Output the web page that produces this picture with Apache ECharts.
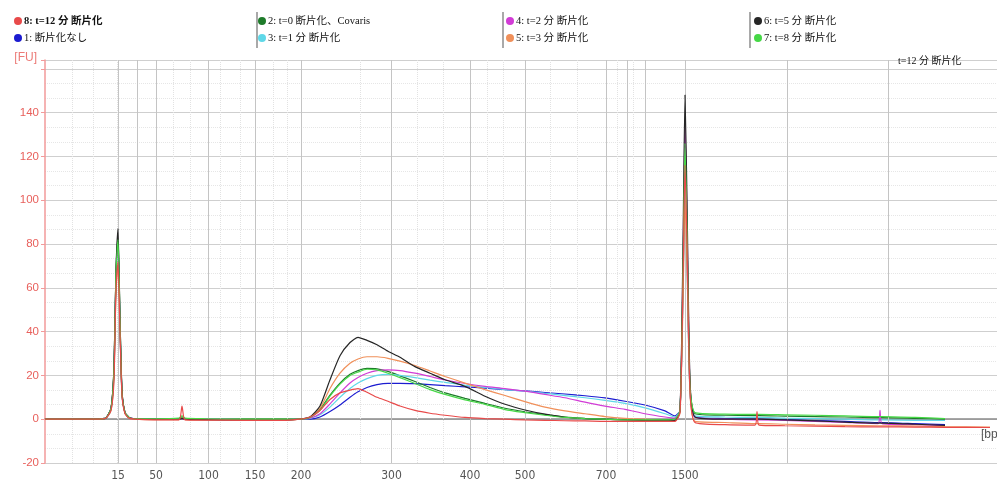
<!DOCTYPE html>
<html><head><meta charset="utf-8">
<script src="https://cdn.jsdelivr.net/npm/echarts@6/dist/echarts.min.js"></script>
<style>html,body{margin:0;padding:0;background:#fff;overflow:hidden}#c{width:997px;height:493px}</style>
</head><body><div id="c"></div>
<script>
// migration time (s)
const times = [20, 24, 26, 26.6, 26.9, 27.1, 27.3, 27.5, 27.7, 28.0, 28.4, 29, 31, 33.4, 33.7, 34.0, 36, 40, 44,
  45.5, 46.5, 47.5, 48.5, 49.5, 50.5, 51.3, 52.2, 53.2, 54.3, 55.5, 57, 58.5, 60, 62, 64, 66, 68, 70, 72, 74, 76, 78, 80, 82, 83,
  83.5, 83.8, 84.0, 84.2, 84.5, 85.0,
  88, 91, 91.2, 91.4, 94, 97, 100, 103.3, 103.5, 103.7, 107, 110, 114.5];

const ladderBp = ['15', '50', '100', '150', '200', '300', '400', '500', '700', '1500'];
const ladderTime = [27.3, 31.1, 36.35, 41.0, 45.6, 54.65, 62.5, 68.0, 76.1, 84.0];
const extraTickTime = [29.2, 78.2, 80.0];
const extraGridTime = [29.2, 78.2, 80.0, 94.2, 104.3];
const minorGridTime = [22.7, 24.8, 27.2, 32.8, 34.5, 37.5, 39.5, 42.8, 44.2, 51.5, 57.2, 59.8, 64.2, 65.8, 70.5, 73.2, 77.2, 78.8];

const s1 = [0.2, 0.2, 0.4, 5, 22, 64, 78, 42, 12, 3, 0.8, 0.2, 0, 0, 0.2, 0, -0.1, -0.2, -0.2,
  0, 0, 1, 3.5, 6.5, 10, 12.5, 14.5, 15.8, 16.4, 16.4, 16.2, 15.8, 15.3, 14.8, 14.2, 13.5, 12.9, 12.2, 11.5, 10.7, 9.7, 8.2, 6.5, 3.8, 1.5,
  4, 60, 110, 76, 13, 1,
  0.3, 0, 0, 0, -0.2, -0.6, -1, -1.5, -1.5, -1.5, -2, -2.5, null];
const s2 = [0, 0, 0.4, 5, 24, 69, 84, 46, 13, 3, 0.8, 0.2, 0.2, 0.3, 1, 0.3, 0.1, 0, 0,
  0, 0.8, 4.5, 11, 16.5, 20.5, 22.2, 23.2, 23, 21.8, 19.8, 17.2, 14.5, 12, 9.5, 7.2, 5, 3.4, 2.1, 1, 0.4, 0, -0.2, -0.2, -0.2, 0.2,
  4, 66, 122, 84, 15, 2.5,
  1.8, 1.6, 1.6, 1.6, 1.4, 1.2, 1, 0.7, 0.7, 0.7, 0.4, 0, null];
const s3 = [0, 0, 0.3, 4, 21, 62, 76, 42, 11, 3, 0.7, 0.1, 0, 0, 0.2, 0, 0, -0.2, -0.2,
  0, 0.3, 2, 5.5, 10, 14, 16.5, 18.5, 20, 20.5, 20, 19, 17.8, 16.8, 15.5, 14.5, 13.5, 12.8, 11.8, 10.8, 9.8, 8.6, 7.2, 5.2, 2.5, 1,
  4, 58, 105, 72, 12, 1.5,
  1, 0.8, 0.8, 0.8, 0.5, 0.3, 0, -0.3, -0.3, -0.3, -0.5, -0.6, null];
const s4 = [0.3, 0.2, 0.4, 5, 23, 66, 80, 44, 12, 3, 0.8, 0.2, 0, 0, 0.2, 0, 0, -0.2, -0.2,
  0, 0.5, 2.5, 7, 12, 16.5, 19, 21, 22.2, 22.5, 22.2, 21, 19.5, 18, 16.3, 15, 14, 12.8, 11.3, 9.8, 7.8, 6, 4.5, 2.5, 1, 0.5,
  4, 72, 135, 92, 16, 1,
  0, -0.3, -0.3, -0.3, -0.5, -1, -1.5, -2, 4, -2, -2.5, -3, null];
const s5 = [0, 0, 0.3, 4, 20, 58, 70, 40, 11, 3, 0.6, 0, -0.2, -0.2, 0.5, -0.2, -0.3, -0.4, -0.4,
  0, 1, 5, 14, 21, 25.5, 27.5, 28.5, 28.5, 27.8, 26.5, 24.5, 22, 19.5, 16.5, 13.5, 10.8, 8, 5.5, 3.8, 2.5, 1.2, 0.4, 0, -0.5, -0.8,
  3, 54, 100, 70, 12, -1,
  -1.5, -2, -2, -2, -2.3, -2.6, -2.8, -3, -3, -3, -3.2, -3.4, -3.6];
const s6 = [0, 0, 0.3, 5, 24, 68, 87, 46, 13, 3, 0.8, 0.2, 0, 0, 0.3, 0, -0.2, -0.3, -0.3,
  0, 1, 6, 18, 29, 35, 37.4, 36, 34, 31, 28.3, 24, 21, 18, 15, 10.5, 6.8, 4.2, 2.3, 0.9, 0.3, 0, -0.3, -0.5, -0.5, -0.5,
  4, 80, 148, 100, 18, 1,
  0, 0, 0, 0, -0.3, -0.8, -1.3, -1.8, -1.8, -1.8, -2.3, -2.8, null];
const s7 = [0, 0, 0.4, 5, 23, 67, 82, 45, 12, 3, 0.8, 0.2, 0.2, 0.5, 1.5, 0.5, 0.2, 0, 0,
  0, 0.8, 4, 10.5, 16, 20, 21.5, 22.8, 22.5, 21, 19, 16.3, 13.5, 11.3, 8.8, 6.8, 4.4, 3, 1.8, 0.8, 0.3, 0, -0.3, -0.3, -0.3, 0,
  4, 68, 126, 86, 15, 3,
  2.3, 2.2, 2.2, 2.2, 2, 1.8, 1.5, 1.2, 1.2, 1.2, 0.8, 0.3, null];
const s8 = [0, 0, 0.3, 4, 18, 60, 72, 40, 11, 2.5, 0.5, 0, -0.3, -0.3, 6, -0.3, -0.4, -0.5, -0.5,
  0, 1, 4, 9, 12, 13.3, 14, 12.3, 10, 8.2, 6, 4, 2.7, 1.8, 0.8, 0.3, 0, -0.3, -0.5, -0.7, -0.8, -1, -1, -1, -1, -1,
  3, 62, 116, 80, 13, -1.5,
  -2.5, -2.7, 3.5, -2.7, -3, -3.2, -3.4, -3.5, -3.5, -3.5, -3.6, -3.7, -3.8];

const names = ['1: 断片化なし', '2: t=0 断片化、Covaris', '3: t=1 分 断片化', '4: t=2 分 断片化',
  '5: t=3 分 断片化', '6: t=5 分 断片化', '7: t=8 分 断片化', '8: t=12 分 断片化'];
const values = [s1, s2, s3, s4, s5, s6, s7, s8];
const colors = ['#1c1cd0', '#1e7b2a', '#5fd8e8', '#d23cd6', '#f0905a', '#262626', '#46d846', '#e84a4a'];

const legendFont = "'Liberation Serif', 'Noto Sans CJK JP', serif";
function legendCol(left, items) {
  return {
    left: left, top: 15, orient: 'vertical', itemGap: 5, itemWidth: 8, itemHeight: 8, icon: 'circle',
    padding: 0, selectedMode: false,
    textStyle: { fontFamily: legendFont, fontSize: 10.5, color: '#111', lineHeight: 12, padding: [0, 0, 0, -3] },
    data: items
  };
}

const gridLines = [];
ladderTime.concat(extraGridTime).forEach(v => gridLines.push({ xAxis: v, lineStyle: { color: '#c4c4c4', width: 1, type: 'solid' } }));
minorGridTime.forEach(v => gridLines.push({ xAxis: v, lineStyle: { color: '#e2e2e2', width: 1, type: 'dotted' } }));

const series = [{
  type: 'line', data: [], silent: true, z: 0,
  markLine: { silent: true, symbol: ['none', 'none'], label: { show: false }, animation: false, data: gridLines }
}];
names.forEach((n, i) => {
  series.push({
    name: n, type: 'line', showSymbol: false, symbol: 'none', smooth: 0.2,
    connectNulls: false, z: 2 + i,
    lineStyle: { color: colors[i], width: 1.2 }, itemStyle: { color: colors[i] },
    data: times.map((t, k) => [t, values[i][k]])
  });
});

const el = document.getElementById('c');
const chart = echarts.init(el, null, { width: 997, height: 493 });
chart.setOption({
  animation: false,
  backgroundColor: '#ffffff',
  title: { text: 't=12 分 断片化', left: 893, top: 51, textStyle: { fontSize: 10, fontWeight: 'normal', color: '#111', fontFamily: legendFont } },
  legend: [
    legendCol(14, [{ name: names[7], textStyle: { fontWeight: 'bold' } }, names[0]]),
    legendCol(258, [names[1], names[2]]),
    legendCol(506, [names[3], names[4]]),
    legendCol(754, [names[5], names[6]])
  ],
  graphic: [257, 503, 750].map(x => ({ type: 'line', shape: { x1: x, y1: 12, x2: x, y2: 48 }, style: { stroke: '#8c8c8c', lineWidth: 1.5 } })),
  grid: { left: 45, right: 0, top: 60, bottom: 30, containLabel: false, outerBoundsMode: 'none' },
  xAxis: {
    type: 'value', min: 20, max: 115.2,
    name: '[bp]', nameLocation: 'end', nameGap: -16,
    nameTextStyle: { color: '#555', fontSize: 12, align: 'left', verticalAlign: 'top', padding: [9, 0, 0, 0] },
    axisLine: { show: true, lineStyle: { color: '#8a8a8a', width: 1.5 } },
    axisTick: { show: true, length: 5, customValues: ladderTime.concat(extraTickTime), lineStyle: { color: '#777' } },
    axisLabel: {
      customValues: ladderTime, color: '#555', fontSize: 12, margin: 7,
      fontFamily: "'Liberation Sans Narrow', 'DejaVu Sans Condensed', sans-serif",
      formatter: v => { let b = ''; ladderTime.forEach((t, i) => { if (Math.abs(t - v) < 0.01) b = ladderBp[i]; }); return b; }
    },
    splitLine: { show: false }
  },
  yAxis: {
    type: 'value', min: -20, max: 164, interval: 20,
    name: '[FU]', nameLocation: 'end', nameGap: 2,
    nameTextStyle: { color: '#ec7a76', fontSize: 12, align: 'right', verticalAlign: 'middle', padding: [0, 8, 0, 0] },
    axisLine: { show: true, lineStyle: { color: '#f29a9a', width: 1.5 } },
    axisTick: { show: true, length: 4, lineStyle: { color: '#f29a9a' } },
    axisLabel: { color: '#e8605c', fontSize: 11.5, margin: 6, formatter: v => (v > 140 ? '' : String(v)) },
    splitLine: { show: true, lineStyle: { color: '#cfcfcf' } },
    minorTick: { show: false, splitNumber: 3 },
    minorSplitLine: { show: true, lineStyle: { color: '#e6e6e6', type: 'dotted' } }
  },
  series: series
});
</script></body></html>
